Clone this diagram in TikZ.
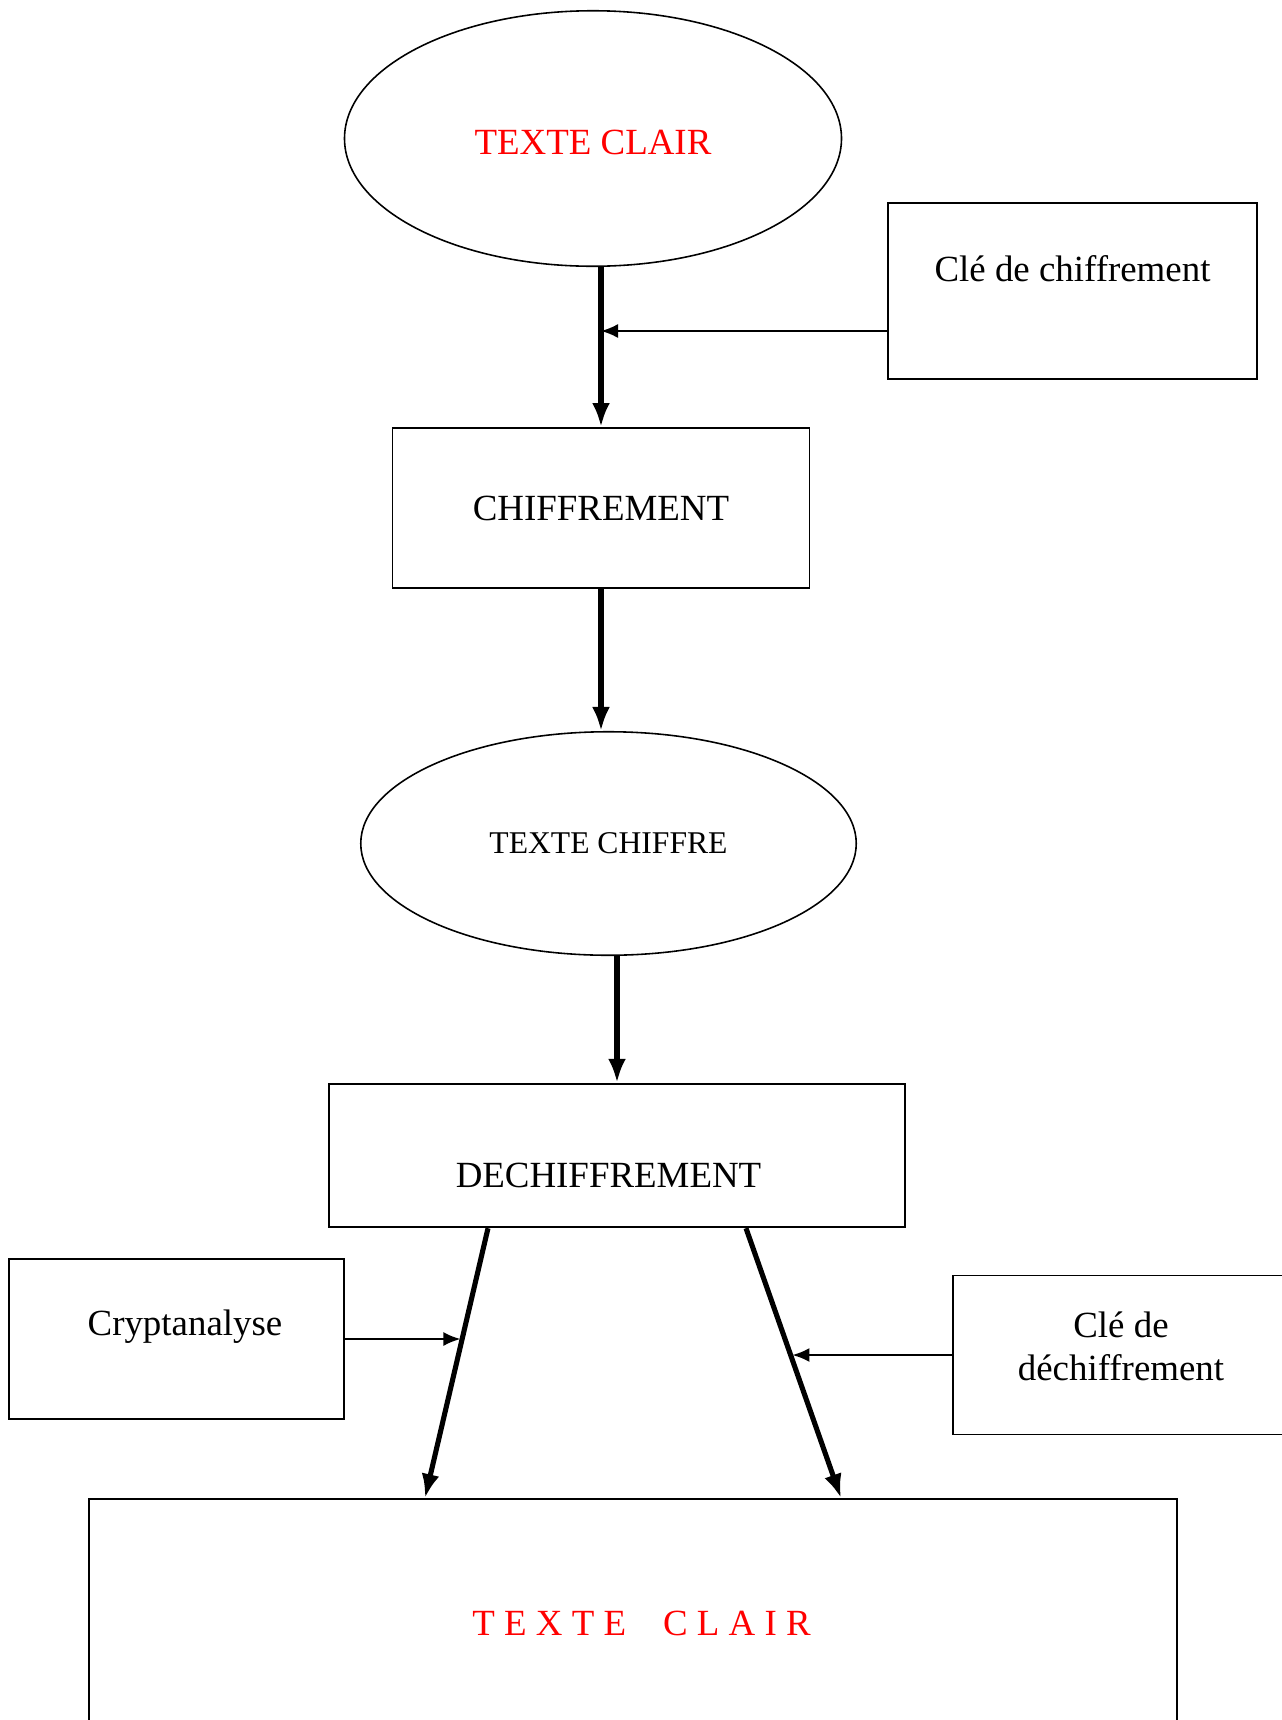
\documentclass[tikz,border=0pt]{standalone}
\usepackage{fontspec}
\setmainfont{Liberation Serif}
\usepackage{tikz}
\usetikzlibrary{shapes.geometric, arrows.meta, positioning, calc}
\usepackage{xcolor}
\definecolor{clairred}{HTML}{FF0000}

\begin{document}
\begin{tikzpicture}[
    box/.style={draw, rectangle, line width=1.1pt},
    oval/.style={draw, ellipse, line width=0.9pt},
    txt/.style={font=\fontsize{21}{24.5}\selectfont, align=center},
    bigarrow/.style={line width=2.9pt, -{Latex[length=0.48cm,width=0.36cm]}},
    smallarrow/.style={line width=1.1pt, -{Latex[length=0.34cm,width=0.28cm]}}
  ]
  \useasboundingbox (0,0) rectangle (25.64,-34.4);
  % Texte clair (haut)
  \node[oval, minimum width=9.94cm, minimum height=5.11cm] (clair) at (11.86,-2.77) {};
  \node[txt, text=clairred] (clairtxt) at ([yshift=-0.08cm]clair.center) {TEXTE CLAIR};
  % Clé de chiffrement
  \node[box, minimum width=7.37cm, minimum height=3.53cm] (cle1) at (21.45,-5.82) {};
  \node[txt] (cle1txt) at ([yshift=0.45cm]cle1.center) {Clé de chiffrement};
  % Chiffrement
  \node[box, txt, minimum width=8.34cm, minimum height=3.20cm] (chiff) at (12.02,-10.16) {CHIFFREMENT};
  % Texte chiffré
  \node[oval, font=\fontsize{18}{21}\selectfont, minimum width=9.91cm, minimum height=4.47cm] (chiffre) at (12.17,-16.87) {TEXTE CHIFFRE};
  % Déchiffrement
  \node[box, minimum width=11.52cm, minimum height=2.87cm] (dechiff) at (12.34,-23.11) {};
  \node[txt] (dechifftxt) at ([xshift=-0.17cm,yshift=-0.39cm]dechiff.center) {DECHIFFREMENT};
  % Cryptanalyse
  \node[box, minimum width=6.71cm, minimum height=3.20cm] (crypt) at (3.53,-26.78) {};
  \node[txt] (crypttxt) at ([xshift=0.17cm,yshift=0.24cm]crypt.center) {Cryptanalyse};
  % Clé de déchiffrement
  \node[box, minimum width=6.94cm, minimum height=3.18cm] (cle2) at (22.53,-27.1) {};
  \node[txt] (cle2txt) at (22.42,-26.92) {Clé de\\déchiffrement};
  % Texte clair (bas)
  \node[box, minimum width=21.76cm, minimum height=5.62cm] (big) at (12.66,-32.79) {};
  \node[txt, text=clairred] (bigtxt) at (12.83,-32.46) {T E X T E\hspace{1em}C L A I R};

  % Flèches
  \draw[bigarrow] (chiff.north |- clair.south) -- (chiff.north);
  \draw[smallarrow] ([yshift=-0.8cm]cle1.west) -- ([yshift=-0.8cm]cle1.west -| chiff.north);
  \draw[bigarrow] (chiff.south) -- (chiff.south |- chiffre.north);
  \draw[bigarrow] (chiffre.south -| dechiff.north) -- (dechiff.north);
  \coordinate (dl1) at ([xshift=-2.58cm]dechiff.south);
  \coordinate (dl2) at ([xshift=-4.16cm]big.north);
  \coordinate (dr1) at ([xshift=2.58cm]dechiff.south);
  \coordinate (dr2) at ([xshift=4.16cm]big.north);
  \draw[bigarrow] (dl1) -- (dl2);
  \draw[bigarrow] (dr1) -- (dr2);
  \coordinate (hitL) at ($(dl1)!0.41!(dl2)$);
  \coordinate (hitR) at ($(dr1)!0.47!(dr2)$);
  \draw[smallarrow, shorten >=1pt] (crypt.east) -- (crypt.east -| hitL);
  \draw[smallarrow, shorten >=1pt] (cle2.west) -- (cle2.west -| hitR);
\end{tikzpicture}
\end{document}
